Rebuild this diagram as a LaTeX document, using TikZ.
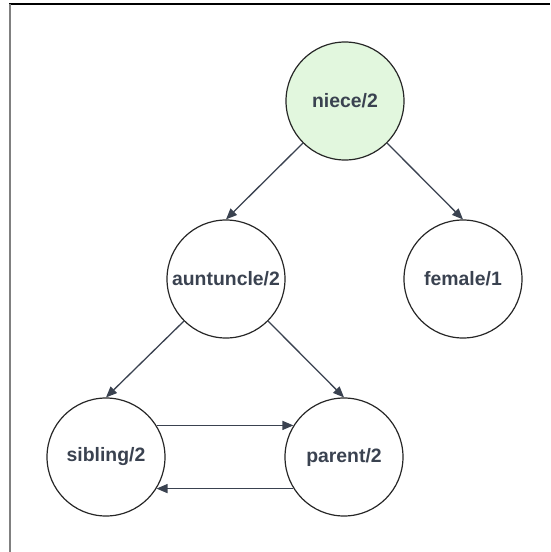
\documentclass[tikz,border=0pt]{standalone}
\usepackage{fontspec}
\setmainfont{Liberation Sans}
\usetikzlibrary{arrows.meta}
\definecolor{inkgray}{HTML}{3A4250}
\definecolor{nicegreen}{HTML}{E2F7DE}
\begin{document}
\begin{tikzpicture}[x=1pt,y=-1pt,
  pred/.style={circle,draw=black!85,line width=1.2pt,minimum size=118pt,
    inner sep=0pt,text=inkgray,font=\fontsize{19.4}{23}\selectfont\bfseries},
  call/.style={draw=inkgray,line width=1.3pt,-{Triangle[length=11pt,width=9pt]}}]
\useasboundingbox (0,0) rectangle (550,552);
% frame
\draw[line width=2pt] (9,4) -- (550,4);
\draw[gray,line width=2pt] (10,4) -- (10,552);
% predicates
\node[pred,fill=nicegreen] (niece) at (345,101) {niece/2};
\node[pred] (auntuncle) at (226,279) {auntuncle/2};
\node[pred] (female) at (463,279) {female/1};
\node[pred] (sibling) at (106,457) {sibling/2};
\node[pred] (parent) at (344,457) {parent/2};
% calls
\draw[call] (niece.-135) -- (auntuncle.north);
\draw[call] (niece.-45) -- (female.north);
\draw[call] (auntuncle.-135) -- (sibling.north);
\draw[call] (auntuncle.-45) -- (parent.north);
% calls between sibling and parent
\draw[call] (sibling.32) -- (parent.148);
\draw[call] (parent.-148) -- (sibling.-32);
\end{tikzpicture}
\end{document}
